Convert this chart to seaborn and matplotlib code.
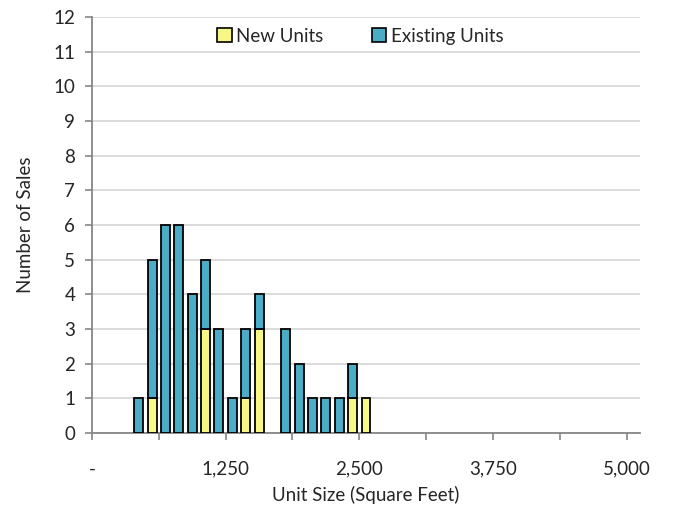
"""Unit size histogram: new vs existing units"""

import matplotlib
matplotlib.use("Agg")
import matplotlib.pyplot as plt
from matplotlib.patches import Patch
import numpy as np
import pandas as pd
import seaborn as sns

# bin centres (square feet, 125 sq ft bins)
bin_centers = [437.5, 562.5, 687.5, 812.5, 937.5, 1062.5, 1187.5, 1312.5,
               1437.5, 1562.5, 1687.5, 1812.5, 1937.5, 2062.5, 2187.5,
               2312.5, 2437.5, 2562.5]
new_units = [0, 1, 0, 0, 0, 3, 0, 0, 1, 3, 0, 0, 0, 0, 0, 0, 1, 1]
existing_units = [1, 4, 6, 6, 4, 2, 3, 1, 2, 1, 0, 3, 2, 1, 1, 1, 1, 0]

x_ticks = [0, 1250, 2500, 3750, 5000]
x_tick_labels = ["-", "1,250", "2,500", "3,750", "5,000"]

NEW_COLOR = "#F7F786"
EXISTING_COLOR = "#4BACC6"
FS = 13.5


def main() -> None:
    sns.set_style("white")
    plt.rcParams["font.family"] = ["Lato", "DejaVu Sans"]

    df = pd.DataFrame({
        "size": bin_centers * 2,
        "count": existing_units + new_units,
        "type": ["Existing Units"] * len(bin_centers) + ["New Units"] * len(bin_centers),
    })

    fig = plt.figure(figsize=(6.83, 5.16), dpi=100)
    ax = fig.add_axes([0.1347, 0.1609, 0.937 - 0.1347, 0.967 - 0.1609])

    sns.histplot(data=df, x="size", weights="count", hue="type",
                 hue_order=["Existing Units", "New Units"],
                 palette={"New Units": NEW_COLOR, "Existing Units": EXISTING_COLOR},
                 multiple="stack", binwidth=125, binrange=(375, 2625),
                 shrink=0.67, alpha=1, edgecolor="black", linewidth=1.3,
                 legend=False, ax=ax, zorder=3)
    # hide empty bins so no flat outline shows on the axis
    for patch in ax.patches:
        if patch.get_height() == 0:
            patch.set_visible(False)

    ax.set_xlim(0, 5125)
    ax.set_ylim(0, 12)
    ax.set_yticks(range(0, 13))
    ax.set_xticks(x_ticks)
    ax.set_xticklabels(x_tick_labels)
    ax.set_xticks(np.arange(625, 5000, 1250), minor=True)
    ax.grid(axis="y", color="#D9D9D9", linewidth=1.3, zorder=0)
    ax.set_axisbelow(True)

    for side in ["top", "right"]:
        ax.spines[side].set_visible(False)
    for side in ["left", "bottom"]:
        ax.spines[side].set_color("#868686")
        ax.spines[side].set_linewidth(1.3)

    ax.tick_params(axis="x", which="both", direction="out", length=5, width=1.2,
                   color="#868686", bottom=True, pad=15, labelsize=FS)
    ax.tick_params(axis="y", direction="out", length=5, width=1.2,
                   color="#868686", left=True, pad=7, labelsize=FS)

    ax.set_xlabel("Unit Size (Square Feet)", fontsize=FS, labelpad=6)
    ax.set_ylabel("Number of Sales", fontsize=FS, labelpad=14)

    handles = [Patch(facecolor=NEW_COLOR, edgecolor="black", linewidth=1.2),
               Patch(facecolor=EXISTING_COLOR, edgecolor="black", linewidth=1.2)]
    ax.legend(handles, ["New Units", "Existing Units"], loc="upper center",
              bbox_to_anchor=(0.49, 1.015), ncol=2, frameon=False, fontsize=FS,
              handlelength=0.75, handleheight=0.75, handletextpad=0.25,
              columnspacing=2.6)

    fig.savefig("out.png", dpi=100)


if __name__ == "__main__":
    main()
